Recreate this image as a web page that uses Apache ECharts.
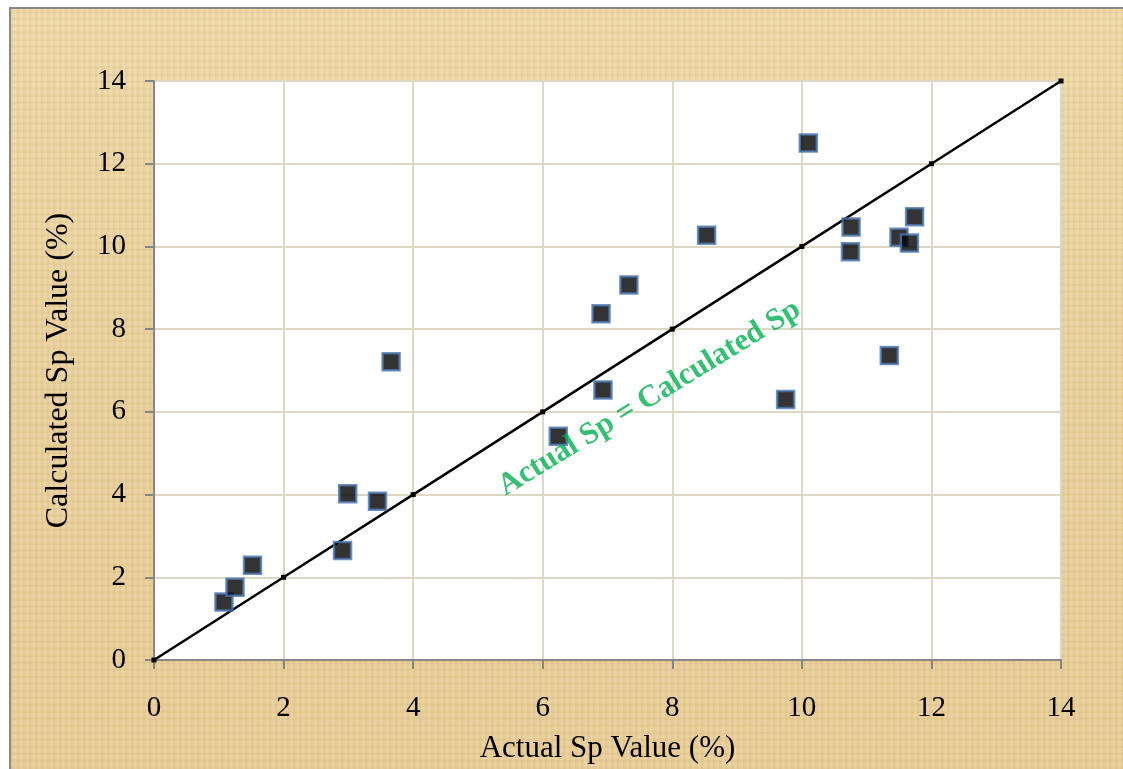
<!DOCTYPE html>
<html>
<head>
<meta charset="utf-8">
<script src="https://cdn.jsdelivr.net/npm/echarts@6/dist/echarts.min.js"></script>
<style>
html,body{margin:0;padding:0;background:#fff;}
#frame{position:absolute;left:9px;top:7px;width:1114px;height:762px;box-sizing:border-box;border-left:2px solid #8a8a8a;border-top:2px solid #8a8a8a;
background:
repeating-linear-gradient(90deg, rgba(160,120,50,0.06) 0px, rgba(160,120,50,0.06) 2px, rgba(255,255,255,0.05) 3px, rgba(255,255,255,0.05) 6px),
repeating-linear-gradient(0deg, rgba(160,120,50,0.05) 0px, rgba(160,120,50,0.05) 2px, rgba(255,255,255,0.05) 3px, rgba(255,255,255,0.05) 7px),
linear-gradient(180deg,#eed8a6 0%,#e9d09a 50%,#e8cd95 100%);}
#chart{position:absolute;left:0;top:0;width:1123px;height:769px;}
</style>
</head>
<body>
<div id="frame"></div>
<div id="chart"></div>
<script>
// Actual Sp value (%) for each sample
const actualSp = [1.08, 1.25, 1.52, 2.91, 2.99, 3.45, 3.66, 6.24, 6.90, 6.93, 7.33, 8.53, 9.75, 10.10, 10.76, 10.75, 11.35, 11.50, 11.66, 11.74];
// Calculated Sp value (%) for each sample
const calculatedSp = [1.40, 1.76, 2.29, 2.65, 4.02, 3.84, 7.21, 5.41, 8.37, 6.53, 9.07, 10.27, 6.30, 12.50, 10.47, 9.87, 7.36, 10.22, 10.08, 10.72];
// Line of equality
const lineX = [0, 2, 4, 6, 8, 10, 12, 14];
const lineY = [0, 2, 4, 6, 8, 10, 12, 14];
// Axis ticks
const xTicks = [0, 2, 4, 6, 8, 10, 12, 14];
const yTicks = [0, 2, 4, 6, 8, 10, 12, 14];
// Annotation
const annotationText = 'Actual Sp = Calculated Sp';
const annotationPos = [7.65, 6.33];

const serif = '"Liberation Serif", "Times New Roman", serif';
const chart = echarts.init(document.getElementById('chart'), null, {renderer: 'canvas'});
const points = actualSp.map((x, i) => [x, calculatedSp[i]]);
const linePts = lineX.map((x, i) => [x, lineY[i]]);

chart.setOption({
  backgroundColor: 'transparent',
  animation: false,
  grid: {left: 154, top: 81, right: 62, bottom: 106, show: true, backgroundColor: '#ffffff', borderWidth: 0},
  xAxis: {
    type: 'value', min: xTicks[0], max: xTicks[xTicks.length - 1], interval: 2,
    name: 'Actual Sp Value (%)', nameLocation: 'middle', nameGap: 73,
    nameTextStyle: {fontFamily: serif, fontSize: 31, color: '#000'},
    axisLine: {show: true, onZero: false, lineStyle: {color: '#868686', width: 2}},
    axisTick: {show: true, length: 9, lineStyle: {color: '#868686', width: 2}},
    axisLabel: {fontFamily: serif, fontSize: 29, color: '#000', margin: 34},
    splitLine: {show: true, lineStyle: {color: '#ddd8c4', width: 2}}
  },
  yAxis: {
    type: 'value', min: yTicks[0], max: yTicks[yTicks.length - 1], interval: 2,
    name: 'Calculated Sp Value (%)', nameLocation: 'middle', nameGap: 79,
    nameTextStyle: {fontFamily: serif, fontSize: 32, color: '#000'},
    axisLine: {show: true, onZero: false, lineStyle: {color: '#868686', width: 2}},
    axisTick: {show: true, length: 9, lineStyle: {color: '#868686', width: 2}},
    axisLabel: {fontFamily: serif, fontSize: 29, color: '#000', margin: 28},
    splitLine: {show: true, lineStyle: {color: '#ddd8c4', width: 2}}
  },
  series: [
    {
      type: 'line', data: linePts, z: 3,
      symbol: 'rect', symbolSize: 5, showSymbol: true,
      itemStyle: {color: '#000'},
      lineStyle: {color: '#000', width: 2.5}
    },
    {
      type: 'scatter', data: points, z: 4,
      symbol: 'rect', symbolSize: 17,
      itemStyle: {color: '#000', borderColor: '#4a76b0', borderWidth: 2.5}
    },
    {
      type: 'scatter', data: [annotationPos], z: 5,
      symbolSize: 0, silent: true,
      label: {
        show: true, position: 'inside', formatter: annotationText, rotate: 31.5,
        fontFamily: serif, fontSize: 31, fontWeight: 'bold', color: '#00b050'
      }
    }
  ]
});
</script>
</body>
</html>
